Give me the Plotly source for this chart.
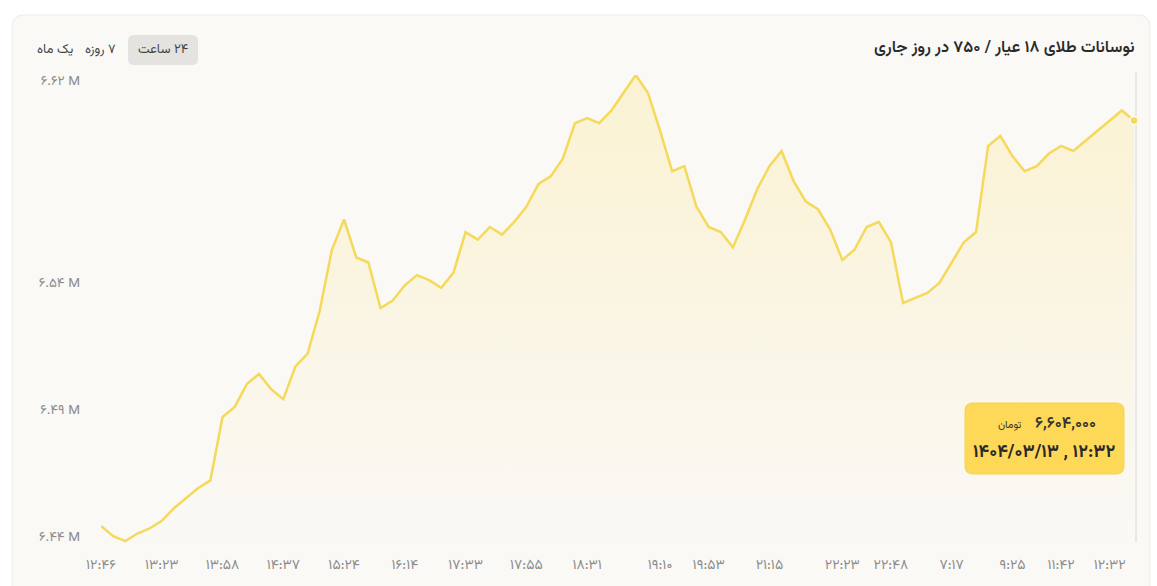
import plotly.graph_objects as go

# ---------------- data ----------------
title_text = "نوسانات طلای ۱۸ عیار / ۷۵۰ در روز جاری"
range_buttons = ["۲۴ ساعت", "۷ روزه", "یک ماه"]

# gold price (thousand toman), one value per sample
price_k = [
    6444, 6440, 6438, 6441, 6443, 6446, 6451, 6455, 6459, 6462,
    6487, 6491, 6500, 6504, 6498, 6494, 6507, 6512, 6529, 6553,
    6565, 6550, 6548, 6530, 6533, 6539, 6543, 6541, 6538, 6544,
    6560, 6557, 6562, 6559, 6564, 6570, 6579, 6582, 6589, 6603,
    6605, 6603, 6608, 6615, 6622, 6615, 6600, 6584, 6586, 6570,
    6562, 6560, 6554, 6565, 6577, 6586, 6592, 6580, 6572, 6569,
    6561, 6549, 6553, 6562, 6564, 6556, 6532, 6534, 6536, 6540,
    6548, 6556, 6560, 6594, 6598, 6590, 6584, 6586, 6591, 6594,
    6592, 6596, 6600, 6604, 6608, 6604,
]

x_tick_index = [0, 5, 10, 15, 20, 25, 30, 35, 40, 46, 50, 55, 61, 65, 70, 75, 79, 83]
x_tick_labels = ["۱۲:۴۶", "۱۳:۲۳", "۱۳:۵۸", "۱۴:۳۷", "۱۵:۲۴", "۱۶:۱۴", "۱۷:۳۳", "۱۷:۵۵",
                 "۱۸:۳۱", "۱۹:۱۰", "۱۹:۵۳", "۲۱:۱۵", "۲۲:۲۳", "۲۲:۴۸", "۷:۱۷", "۹:۲۵",
                 "۱۱:۴۲", "۱۲:۳۲"]

y_tick_values = [6.44e6, 6.49e6, 6.54e6, 6.62e6]
y_tick_labels = ["۶.۴۴ M", "۶.۴۹ M", "۶.۵۴ M", "۶.۶۲ M"]

tip_price = "۶,۶۰۴,۰۰۰"
tip_unit = "تومان"
tip_date = "۱۴۰۴/۰۳/۱۳ , ۱۲:۳۲"

# ---------------- layout helpers ----------------
W, H = 1157, 586
FONT = "Vazirmatn, 'DejaVu Sans', 'Noto Sans', sans-serif"
RLM = "\u200F"


def px(x):
    return x / W


def py(y):
    return 1 - y / H


def rtl(s):
    return RLM + s + RLM


def rounded(x0, y0, x1, y1, r):
    pts = [
        f"M {px(x0 + r)} {py(y0)}",
        f"L {px(x1 - r)} {py(y0)}",
        f"Q {px(x1)} {py(y0)} {px(x1)} {py(y0 + r)}",
        f"L {px(x1)} {py(y1 - r)}",
        f"Q {px(x1)} {py(y1)} {px(x1 - r)} {py(y1)}",
        f"L {px(x0 + r)} {py(y1)}",
        f"Q {px(x0)} {py(y1)} {px(x0)} {py(y1 - r)}",
        f"L {px(x0)} {py(y0 + r)}",
        f"Q {px(x0)} {py(y0)} {px(x0 + r)} {py(y0)}",
        "Z",
    ]
    return " ".join(pts)


prices = [v * 1000 for v in price_k]
xs = list(range(len(prices)))

LINE = "#f5d95a"
y_lo, y_hi = 6.4353e6, 6.6220e6

fig = go.Figure()
fig.add_trace(go.Scatter(
    x=xs, y=prices, mode="lines",
    line=dict(color=LINE, width=2.5),
    fill="tozeroy",
    fillgradient=dict(type="vertical",
                      colorscale=[[0, "rgba(250,220,95,0)"], [1, "rgba(250,220,95,0.24)"]],
                      start=y_lo, stop=y_hi),
    hoverinfo="skip", showlegend=False,
))
fig.add_trace(go.Scatter(
    x=[xs[-1]], y=[prices[-1]], mode="markers",
    marker=dict(size=8, color=LINE, line=dict(color="#fffbe8", width=1.5)),
    cliponaxis=False, hoverinfo="skip", showlegend=False,
))

shapes = [
    dict(type="path", xref="paper", yref="paper", path=rounded(12, 15, 1150, 620, 12),
         fillcolor="#faf9f6", line=dict(color="#eeede9", width=1), layer="below"),
    dict(type="path", xref="paper", yref="paper", path=rounded(128, 35, 198, 65, 6),
         fillcolor="#e4e3e0", line=dict(width=0), layer="below"),
    dict(type="line", xref="paper", yref="paper", x0=px(1136), x1=px(1136),
         y0=py(542), y1=py(72), line=dict(color="#e4e3e0", width=1.5), layer="below"),
    dict(type="path", xref="paper", yref="paper", path=rounded(965, 403, 1124, 474, 8),
         fillcolor="#fed957", line=dict(color="#f8d24a", width=1), layer="above"),
]

annotations = [
    dict(x=px(1137), y=py(48), xref="paper", yref="paper", xanchor="right", yanchor="middle",
         text=rtl(title_text), showarrow=False,
         font=dict(family=FONT, size=16.5, color="#2a2a2a", weight=600)),
]
for label, cx in zip(range_buttons, [163, 100, 55]):
    annotations.append(dict(x=px(cx), y=py(50), xref="paper", yref="paper",
                            xanchor="center", yanchor="middle", text=rtl(label), showarrow=False,
                            font=dict(family=FONT, size=13, color="#444444")))
annotations += [
    dict(x=px(1098), y=py(424), xref="paper", yref="paper", xanchor="right", yanchor="middle",
         text=tip_price, showarrow=False, font=dict(family=FONT, size=16, color="#333333", weight=600)),
    dict(x=px(1023), y=py(425), xref="paper", yref="paper", xanchor="right", yanchor="middle",
         text=rtl(tip_unit), showarrow=False, font=dict(family=FONT, size=10.5, color="#333333")),
    dict(x=px(1044.5), y=py(453), xref="paper", yref="paper", xanchor="center", yanchor="middle",
         text=tip_date, showarrow=False, font=dict(family=FONT, size=18, color="#2a2a2a", weight=700)),
]

fig.update_layout(
    width=W, height=H,
    margin=dict(l=0, r=0, t=0, b=0, autoexpand=False),
    paper_bgcolor="#ffffff",
    plot_bgcolor="rgba(0,0,0,0)",
    hovermode=False,
    shapes=shapes,
    annotations=annotations,
    xaxis=dict(domain=[px(101), px(1134)], range=[0, len(prices) - 1],
               tickmode="array", tickvals=x_tick_index, ticktext=x_tick_labels,
               showgrid=False, zeroline=False, showline=False, ticks="",
               automargin=False, ticklabelstandoff=6,
               tickfont=dict(family=FONT, size=14, color="#8c8c8c")),
    yaxis=dict(domain=[py(548), py(75)], range=[y_lo, y_hi],
               tickmode="array", tickvals=y_tick_values, ticktext=y_tick_labels,
               showgrid=False, zeroline=False, showline=False, ticks="",
               automargin=False, ticklabelstandoff=20,
               tickfont=dict(family=FONT, size=13.5, color="#8c8c8c")),
)

fig.write_html(
    "out.html",
    config={"displayModeBar": False, "staticPlot": True},
    post_script="document.body.style.margin='0';document.body.style.padding='0';"
                "document.body.style.overflow='hidden';",
)
